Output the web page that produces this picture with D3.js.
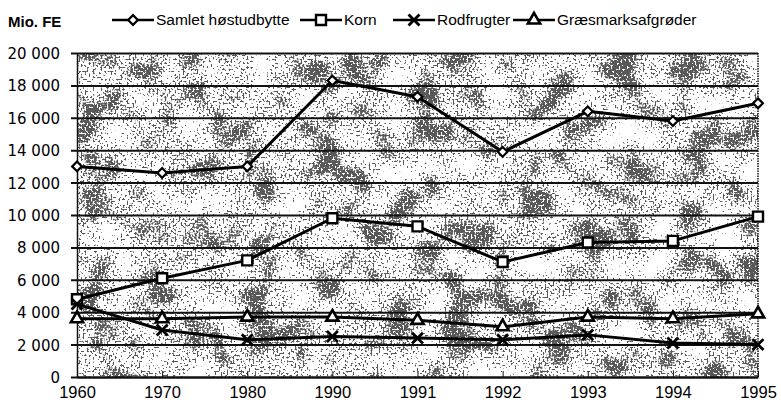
<!DOCTYPE html>
<html>
<head>
<meta charset="utf-8">
<script src="https://cdn.jsdelivr.net/npm/d3@7"></script>
<style>
    body { margin: 0; background: #fff; }
    svg { display: block; font-family: "Liberation Sans", Arial, sans-serif; }
</style>
</head>
<body>
<div id="chart"></div>
<script>
const YEARS = ['1960', '1970', '1980', '1990', '1991', '1992', '1993', '1994', '1995'];
const SAMLET = [13000, 12600, 13000, 18300, 17300, 13900, 16400, 15800, 16900];
const KORN = [4800, 6100, 7200, 9800, 9300, 7100, 8300, 8400, 9900];
const RODFRUGTER = [4500, 2900, 2300, 2500, 2400, 2300, 2600, 2100, 2000];
const GRAES = [3600, 3600, 3700, 3700, 3500, 3100, 3700, 3600, 3900];
const Y_TICKS = [0, 2000, 4000, 6000, 8000, 10000, 12000, 14000, 16000, 18000, 20000];

const SERIES = [
    { label: 'Samlet høstudbytte', values: SAMLET, marker: 'diamond', legendX: 112 },
    { label: 'Korn', values: KORN, marker: 'square', legendX: 300 },
    { label: 'Rodfrugter', values: RODFRUGTER, marker: 'cross', legendX: 393 },
    { label: 'Græsmarksafgrøder', values: GRAES, marker: 'triangle', legendX: 513 }
];

const width = 781;
const height = 407;
const margin = { top: 53, right: 23, bottom: 30, left: 77 };
const innerWidth = width - margin.left - margin.right;
const innerHeight = height - margin.top - margin.bottom;

const svg = d3.select('#chart').append('svg')
    .attr('width', width)
    .attr('height', height);

// stippled print texture
const OPAQUE = '1 0 0 0 0  0 1 0 0 0  0 0 1 0 0  0 0 0 0 1';
const defs = svg.append('defs');
const stipple = defs.append('filter')
    .attr('id', 'stipple')
    .attr('color-interpolation-filters', 'sRGB')
    .attr('x', 0).attr('y', 0).attr('width', 1).attr('height', 1);
stipple.append('feTurbulence')
    .attr('type', 'fractalNoise')
    .attr('baseFrequency', '0.03')
    .attr('numOctaves', 2)
    .attr('seed', 7)
    .attr('result', 'blotchRaw');
stipple.append('feColorMatrix')
    .attr('in', 'blotchRaw')
    .attr('type', 'matrix')
    .attr('values', OPAQUE)
    .attr('result', 'blotch');
stipple.append('feTurbulence')
    .attr('type', 'fractalNoise')
    .attr('baseFrequency', '0.5')
    .attr('numOctaves', 1)
    .attr('seed', 3)
    .attr('result', 'grainRaw');
stipple.append('feColorMatrix')
    .attr('in', 'grainRaw')
    .attr('type', 'matrix')
    .attr('values', OPAQUE)
    .attr('result', 'grain');
stipple.append('feComposite')
    .attr('in', 'grain')
    .attr('in2', 'blotch')
    .attr('operator', 'arithmetic')
    .attr('k1', 0).attr('k2', 1).attr('k3', 0.7).attr('k4', -0.35)
    .attr('result', 'mix');
stipple.append('feColorMatrix')
    .attr('in', 'mix')
    .attr('type', 'matrix')
    .attr('values', '0 0 0 0 0  0 0 0 0 0  0 0 0 0 0  14 0 0 0 -7.6')
    .attr('result', 'dots');
stipple.append('feComposite')
    .attr('in', 'dots')
    .attr('in2', 'SourceGraphic')
    .attr('operator', 'in');

const chartGroup = svg.append('g')
    .attr('transform', `translate(${margin.left},${margin.top})`);

const xScale = d3.scalePoint()
    .domain(YEARS)
    .range([0, innerWidth]);

const yScale = d3.scaleLinear()
    .domain([0, 20000])
    .range([innerHeight, 0]);

chartGroup.append('rect')
    .attr('width', innerWidth)
    .attr('height', innerHeight)
    .attr('fill', '#fff');

chartGroup.append('rect')
    .attr('width', innerWidth)
    .attr('height', innerHeight)
    .attr('fill', '#222')
    .attr('opacity', 0.65)
    .attr('filter', 'url(#stipple)');

const formatTick = (value) => value === 0 ? '0' : d3.format(',')(value).replace(',', ' ');

chartGroup.append('g')
    .call(d3.axisLeft(yScale).tickValues(Y_TICKS).tickSize(-innerWidth).tickSizeOuter(0).tickPadding(17).tickFormat(formatTick))
    .call((group) => group.select('.domain').attr('stroke', '#111').attr('stroke-width', 1.5))
    .call((group) => group.selectAll('line').attr('stroke', '#111').attr('stroke-width', 2).attr('x1', -6))
    .call((group) => group.selectAll('text')
        .attr('fill', '#000')
        .attr('font-family', '"DejaVu Sans", sans-serif')
        .attr('font-size', 15)
        .attr('dy', '0.36em'));

chartGroup.append('line')
    .attr('x1', innerWidth).attr('x2', innerWidth)
    .attr('y1', 0).attr('y2', innerHeight)
    .attr('stroke', '#111')
    .attr('stroke-width', 1.5)
    .attr('stroke-dasharray', '1.5 1');

chartGroup.append('g')
    .attr('transform', `translate(0,${innerHeight})`)
    .call(d3.axisBottom(xScale).tickSize(4).tickSizeOuter(0).tickPadding(5))
    .call((group) => group.select('.domain').attr('stroke', '#111').attr('stroke-width', 2))
    .call((group) => group.selectAll('line').attr('stroke', '#111').attr('y1', -6).attr('y2', 0))
    .call((group) => group.selectAll('text')
        .attr('fill', '#000')
        .attr('font-size', 16.5));

function drawMarker(group, kind, cx, cy) {
    if (kind === 'diamond') {
        group.append('path')
            .attr('d', d3.symbol(d3.symbolDiamond2, 60)())
            .attr('transform', `translate(${cx},${cy})`)
            .attr('fill', '#fff').attr('stroke', '#000').attr('stroke-width', 2.2);
    } else if (kind === 'square') {
        group.append('path')
            .attr('d', d3.symbol(d3.symbolSquare, 100)())
            .attr('transform', `translate(${cx},${cy})`)
            .attr('fill', '#fff').attr('stroke', '#000').attr('stroke-width', 2.4);
    } else if (kind === 'cross') {
        group.append('path')
            .attr('d', d3.symbol(d3.symbolX, 80)())
            .attr('transform', `translate(${cx},${cy})`)
            .attr('fill', 'none').attr('stroke', '#000').attr('stroke-width', 2.8);
    } else {
        group.append('path')
            .attr('d', d3.symbol(d3.symbolTriangle, 65)())
            .attr('transform', `translate(${cx},${cy})`)
            .attr('fill', '#fff').attr('stroke', '#000').attr('stroke-width', 2.6);
    }
}

const lineGenerator = d3.line()
    .x((datum, index) => xScale(YEARS[index]))
    .y((datum) => yScale(datum));

SERIES.forEach((series) => {
    chartGroup.append('path')
        .datum(series.values)
        .attr('fill', 'none')
        .attr('stroke', '#000')
        .attr('stroke-width', 3)
        .attr('stroke-linejoin', 'round')
        .attr('d', lineGenerator);
});

SERIES.forEach((series) => {
    const markerGroup = chartGroup.append('g');
    series.values.forEach((value, index) => {
        drawMarker(markerGroup, series.marker, xScale(YEARS[index]), yScale(value));
    });
});

svg.append('text')
    .attr('x', 8)
    .attr('y', 27)
    .attr('font-size', 15)
    .attr('font-weight', 'bold')
    .attr('fill', '#000')
    .text('Mio. FE');

const legend = svg.append('g').attr('transform', 'translate(0,20)');
SERIES.forEach((series) => {
    const item = legend.append('g').attr('transform', `translate(${series.legendX},0)`);
    item.append('line')
        .attr('x1', 0).attr('x2', 42)
        .attr('stroke', '#000').attr('stroke-width', 2.6);
    drawMarker(item, series.marker, 21, 0);
    item.append('text')
        .attr('x', 44)
        .attr('dy', '0.3em')
        .attr('font-size', 15.5)
        .attr('fill', '#000')
        .text(series.label);
});
</script>
</body>
</html>
